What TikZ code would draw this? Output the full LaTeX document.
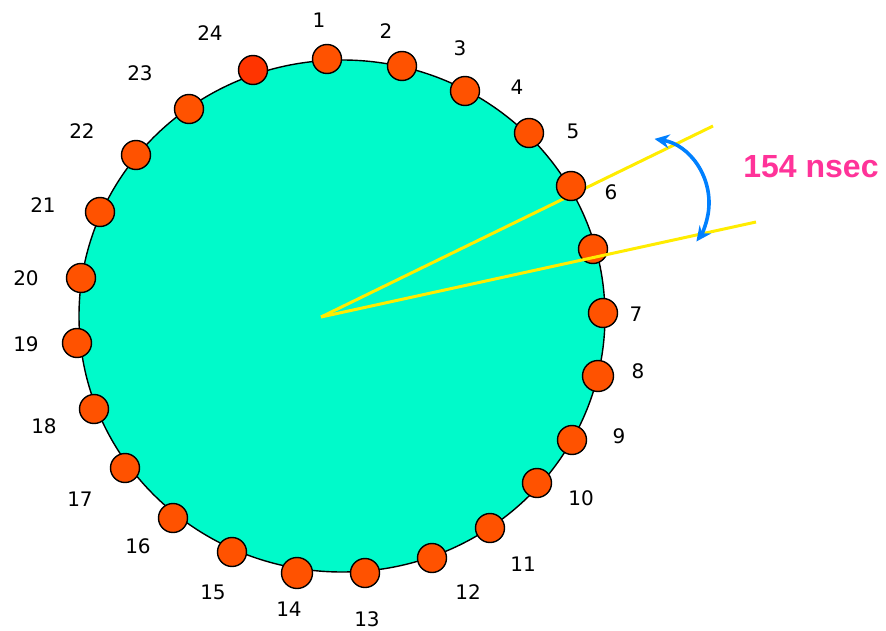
\documentclass[tikz,border=0pt]{standalone}
\usepackage{fontspec}
\newfontfamily\lblfont{DejaVu Sans}
\newfontfamily\annfont{Liberation Sans}
\usetikzlibrary{arrows.meta,shapes.geometric}
\definecolor{disc}{RGB}{0,250,202}
\definecolor{dotfill}{RGB}{255,82,0}
\definecolor{dotred}{RGB}{255,52,0}
\definecolor{ray}{RGB}{255,236,0}
\definecolor{arrowblue}{RGB}{0,128,255}
\definecolor{pinktext}{RGB}{255,51,153}
\begin{document}
\begin{tikzpicture}[x=1pt,y=-1pt,
  pmt/.style={circle,draw=black,line width=1.4pt,fill=dotfill,minimum size=29pt,inner sep=0pt},
  bigpmt/.style={pmt,minimum size=31pt},
  num/.style={inner sep=0pt,font=\lblfont\fontsize{20pt}{24pt}\selectfont},
  rayline/.style={draw=ray,line width=3pt},
  timearrow/.style={draw=arrowblue,line width=3.6pt,{Stealth[length=15pt,width=14pt,inset=5pt]}-{Stealth[length=15pt,width=14pt,inset=5pt]}}
]
\useasboundingbox (0,0) rectangle (886,631);
% disc
\node[ellipse,draw=black,line width=1.4pt,fill=disc,minimum width=526pt,minimum height=512pt,inner sep=0pt] (disc) at (342,316) {};
\coordinate (v) at (321,317);
\coordinate (r1) at (713,126);
\coordinate (r2) at (756,222);
% upper ray (under the dots)
\draw[rayline] (v) -- (r1);
% photomultipliers
\node[pmt] (d1) at (327,59) {};
\node[pmt] (d2) at (402,66) {};
\node[pmt] (d3) at (465,91) {};
\node[pmt] (d4) at (529,133) {};
\node[pmt] (d5) at (571,186) {};
\node[pmt] (d6) at (593,249) {};
\node[pmt] (d7) at (603,313) {};
\node[bigpmt] (d8) at (598,376) {};
\node[pmt] (d9) at (572,440) {};
\node[pmt] (d10) at (537,483) {};
\node[pmt] (d11) at (490,528) {};
\node[pmt] (d12) at (432,558) {};
\node[pmt] (d13) at (365,573) {};
\node[bigpmt] (d14) at (297,573) {};
\node[pmt] (d15) at (232,552) {};
\node[pmt] (d16) at (173,518) {};
\node[pmt] (d17) at (125,468) {};
\node[pmt] (d18) at (94,409) {};
\node[pmt] (d19) at (77,343) {};
\node[pmt] (d20) at (81,278) {};
\node[pmt] (d21) at (100,212) {};
\node[pmt] (d22) at (136,155) {};
\node[pmt] (d23) at (189,109) {};
\node[pmt,fill=dotred] (d24) at (253,70) {};
% lower ray (over the dots)
\draw[rayline] (v) -- (r2);
% time arrow
\coordinate (a1) at (654.5,138.9);
\draw[timearrow] (a1) arc[start angle=80.7,end angle=-36.3,radius=65pt];
\node[inner sep=0pt,text=pinktext,font=\annfont\bfseries\fontsize{32pt}{36pt}\selectfont] (t) at (811,166.5) {154 nsec};
% labels
\node[num] (l1) at (319,20) {1};
\node[num] (l2) at (386,31) {2};
\node[num] (l3) at (460,48) {3};
\node[num] (l4) at (517,87) {4};
\node[num] (l5) at (573,131) {5};
\node[num] (l6) at (611,192) {6};
\node[num] (l7) at (636,314) {7};
\node[num] (l8) at (638,371) {8};
\node[num] (l9) at (619,436) {9};
\node[num] (l10) at (581,498) {10};
\node[num] (l11) at (523,564) {11};
\node[num] (l12) at (468,592) {12};
\node[num] (l13) at (367,619) {13};
\node[num] (l14) at (289,609) {14};
\node[num] (l15) at (213,592) {15};
\node[num] (l16) at (138,546) {16};
\node[num] (l17) at (80,499) {17};
\node[num] (l18) at (44,426) {18};
\node[num] (l19) at (26,344) {19};
\node[num] (l20) at (26,278) {20};
\node[num] (l21) at (43,205) {21};
\node[num] (l22) at (82,131) {22};
\node[num] (l23) at (140,73) {23};
\node[num] (l24) at (210,33) {24};
\end{tikzpicture}
\end{document}
